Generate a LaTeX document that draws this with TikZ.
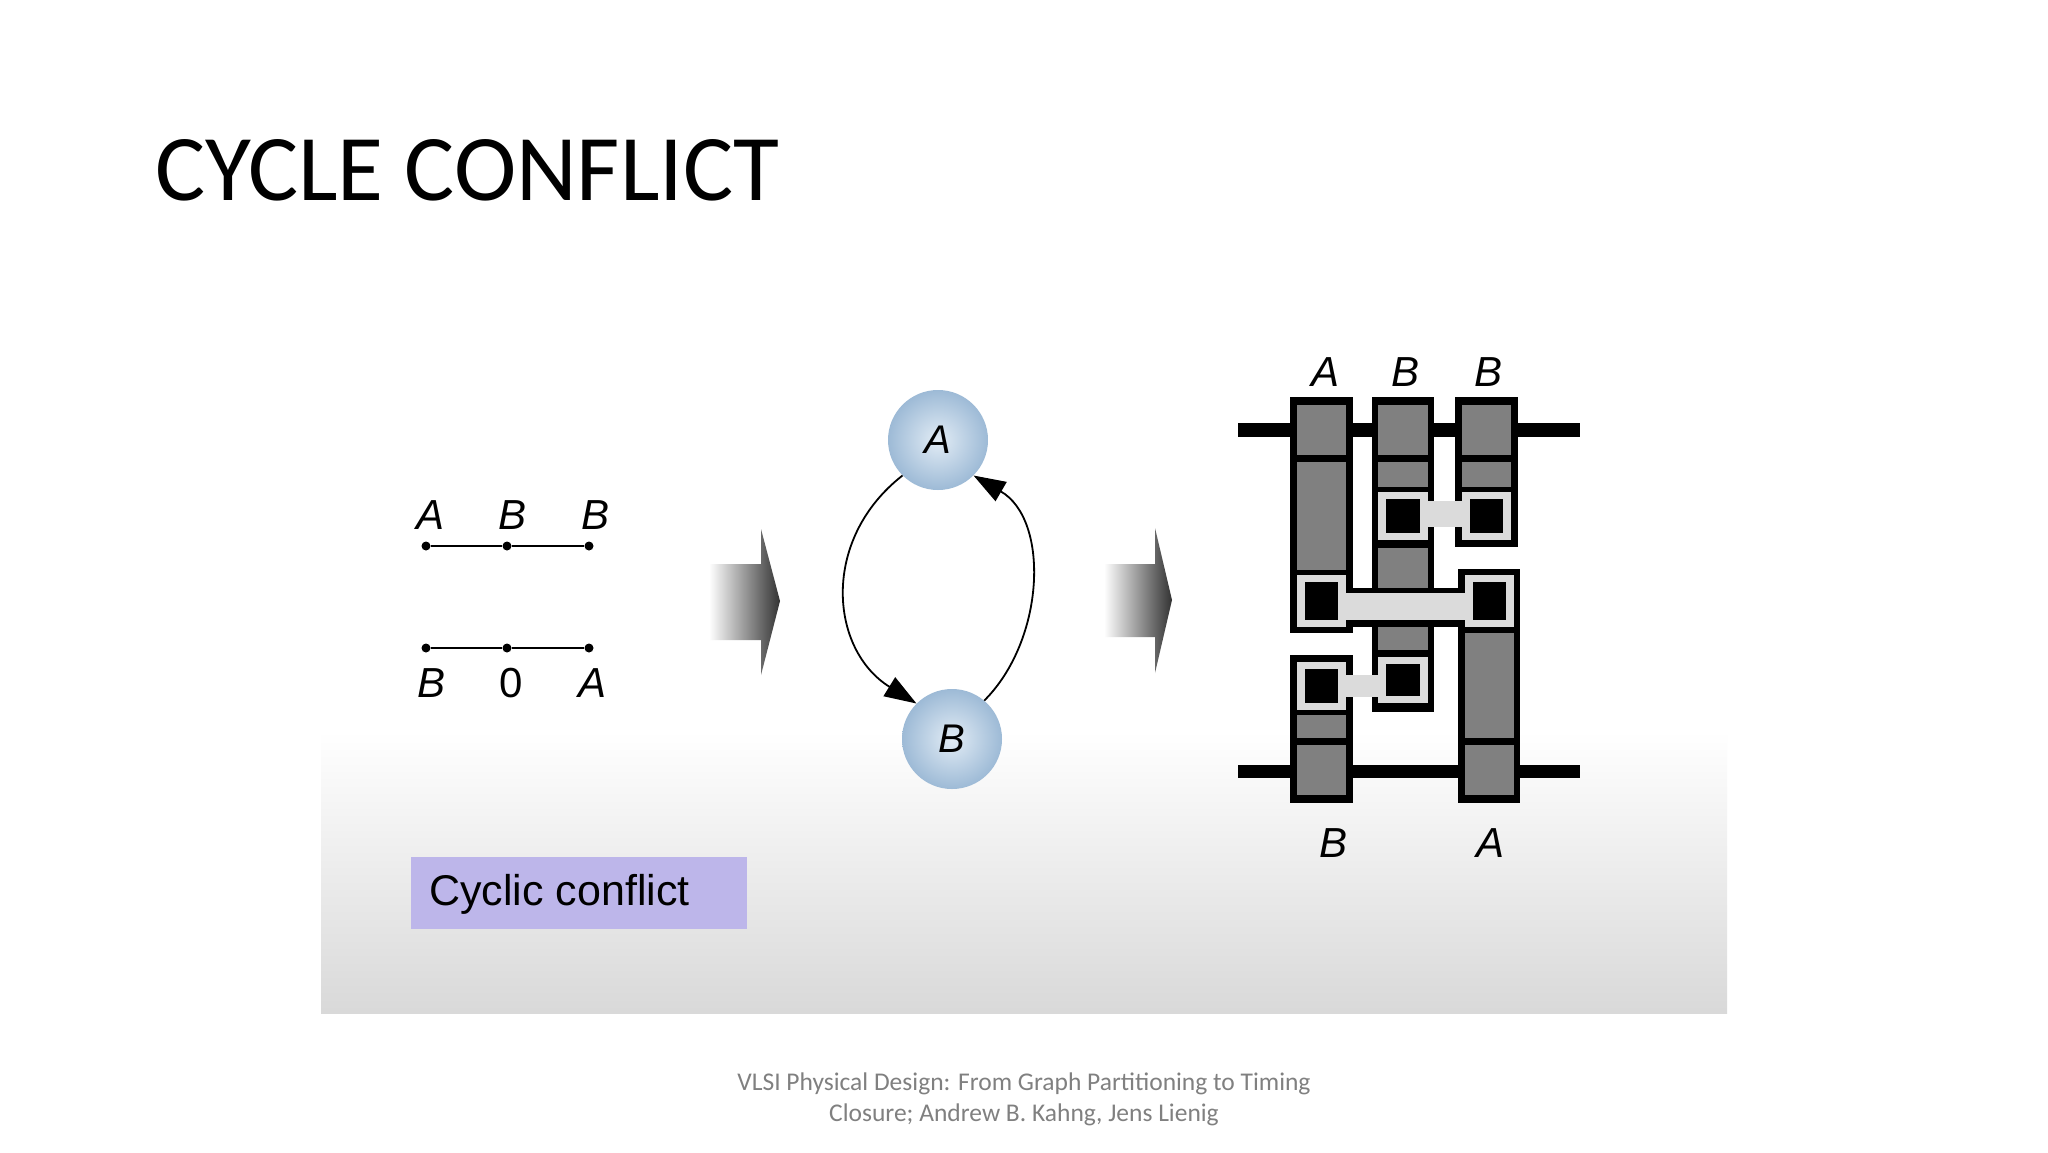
\documentclass[tikz,border=0pt]{standalone}
\usepackage{fontspec}
\setmainfont{Liberation Sans}
\newfontfamily\carl{Carlito}
\usetikzlibrary{arrows.meta}
\definecolor{lav}{HTML}{BDB6EA}
\definecolor{cell}{gray}{0.5}
\definecolor{lite}{gray}{0.86}
\definecolor{ballin}{HTML}{E2ECF5}
\definecolor{ballout}{HTML}{9DBAD6}
\tikzset{
 lbl/.style={font=\fontsize{42}{42}\selectfont\itshape, inner sep=0pt},
 dot/.style={circle, fill=black, inner sep=0pt, minimum size=9pt},
 ball/.style={circle, minimum size=100pt, inner sep=0pt, inner color=ballin, outer color=ballout, font=\fontsize{40}{40}\selectfont\itshape},
 edge/.style={line width=1.8pt, -{Triangle[length=32pt,width=22pt]}},
 bigarrow/.style={left color=white, right color=black!80},
}
\begin{document}
\begin{tikzpicture}[x=1pt,y=-1pt]
\useasboundingbox (0,0) rectangle (2048,1152);
\fill[white] (0,0) rectangle (2048,1152);
% panel gradient
\shade[top color=white, bottom color=black!15] (321,731) rectangle (1727,1013);
% title
\node[anchor=base west, inner sep=0pt, font=\carl\fontsize{94}{94}\selectfont] (title) at (155,200) {CYCLE CONFLICT};
% left
\node[dot] (t1) at (426,546) {}; \node[dot] (t2) at (507,546) {}; \node[dot] (t3) at (589,546) {};
\draw[line width=2pt] (t1) -- (t2) -- (t3);
\node[dot] (b1) at (426,648) {}; \node[dot] (b2) at (507,648) {}; \node[dot] (b3) at (589,648) {};
\draw[line width=2pt] (b1) -- (b2) -- (b3);
\node[lbl] (la1) at (431,515) {A}; \node[lbl] (la2) at (513,515) {B}; \node[lbl] (la3) at (596,515) {B};
\node[lbl] (lb1) at (432,683) {B}; \node[lbl, font=\fontsize{42}{42}\selectfont] (lb2) at (511,683) {0}; \node[lbl] (lb3) at (593,683) {A};
% arrows
\shade[bigarrow] (709,564) -- (761,564) -- (761,529) -- (780,601) -- (761,675) -- (761,640) -- (709,640) -- cycle;
\shade[bigarrow] (1104,564) -- (1155,564) -- (1155,528) -- (1172,600) -- (1155,673) -- (1155,637) -- (1104,637) -- cycle;
% graph
\node[ball] (A) at (938,440) {A};
\node[ball] (B) at (952,739) {B};
\draw[edge] (A.225) .. controls (820,540) and (830,650) .. (B.135);
\draw[edge] (B.50) .. controls (1045,640) and (1050,520) .. (A.-45);
% right layout: rails
\draw[line width=14pt] (1238,429.5) -- (1580,429.5);
\draw[line width=13pt] (1238,771) -- (1580,771);
% columns (outer black)
\fill[black] (1290,397) rectangle (1353,633);
\fill[black] (1372,397) rectangle (1434,712);
\fill[black] (1455,397) rectangle (1518,547);
\fill[black] (1458,569) rectangle (1520,803);
\fill[black] (1290,655) rectangle (1353,803);
% gray segments
\fill[cell] (1297,405) rectangle (1346,455);
\fill[cell] (1297,462) rectangle (1346,570);
\fill[cell] (1378,405) rectangle (1428,455);
\fill[cell] (1378,462) rectangle (1428,487);
\fill[cell] (1378,548) rectangle (1428,588);
\fill[cell] (1378,627) rectangle (1428,650);
\fill[cell] (1462,405) rectangle (1511,455);
\fill[cell] (1462,462) rectangle (1511,487);
\fill[cell] (1465,633) rectangle (1514,738);
\fill[cell] (1465,745) rectangle (1514,795);
\fill[cell] (1297,715) rectangle (1346,738);
\fill[cell] (1297,745) rectangle (1346,795);
% bars
\fill[black] (1353,588) rectangle (1458,627);
\fill[lite] (1346,593) rectangle (1465,620);
\fill[lite] (1428,501) rectangle (1462,527);
\fill[lite] (1346,675) rectangle (1378,697);
% contacts
\foreach \x/\y/\X/\Y in {1297/575/1346/627, 1378/492/1428/540, 1462/492/1511/540, 1465/575/1514/627, 1297/662/1346/710, 1378/657/1428/703}{
  \fill[lite] (\x,\y) rectangle (\X,\Y);
  \fill[black] (\x+8,\y+7) rectangle (\X-8,\Y-7);
}
% right labels
\node[lbl] (ra1) at (1325,372) {A}; \node[lbl] (ra2) at (1405,372) {B}; \node[lbl] (ra3) at (1488,372) {B};
\node[lbl] (rb1) at (1333,843) {B}; \node[lbl] (rb2) at (1490,843) {A};
% caption box
\node[fill=lav, minimum width=336pt, minimum height=72pt, inner sep=0pt] (cap) at (579,893) {};
\node[anchor=west, inner sep=0pt, font=\fontsize{43}{43}\selectfont] (capt) at (429,894) {Cyclic conflict};
% footer
\node[align=center, text=black!50, font=\carl\fontsize{25.5}{31}\selectfont] (foot) at (1024,1099) {VLSI Physical Design: From Graph Partitioning to Timing\\Closure; Andrew B. Kahng, Jens Lienig};
\end{tikzpicture}
\end{document}
